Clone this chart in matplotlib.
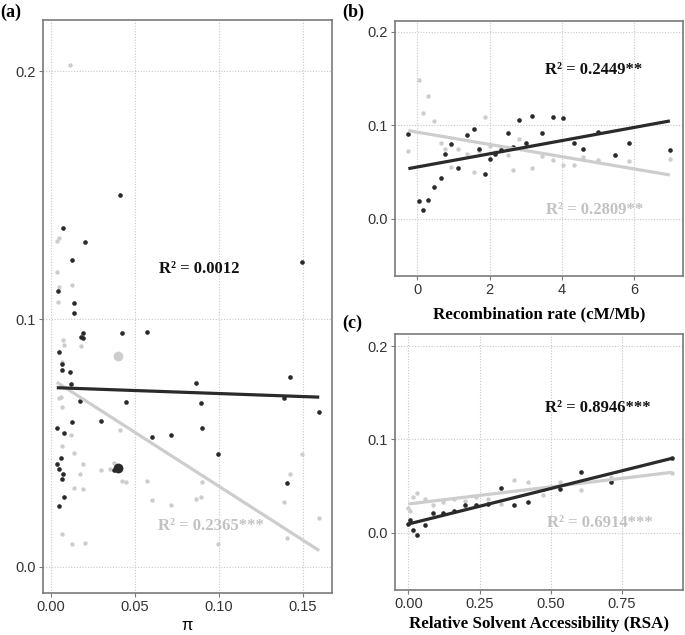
import matplotlib
matplotlib.use("Agg")
import matplotlib.pyplot as plt
import numpy as np

# ---------------- Panel (a) data ----------------
a_dark_x = [0.041, 0.007, 0.0202, 0.0125, 0.1492, 0.0044, 0.0137, 0.0137, 0.0179, 0.0189,
            0.0192, 0.0423, 0.0571, 0.0048, 0.0067, 0.0067, 0.0115, 0.0117, 0.0173, 0.0446,
            0.0861, 0.1423, 0.1389, 0.0893, 0.1597, 0.0125, 0.0298, 0.0034, 0.0075, 0.0899,
            0.0603, 0.0716, 0.0996, 0.0058, 0.0034, 0.0048, 0.0073, 0.0067, 0.0077, 0.005,
            0.1403, 0.0377]
a_dark_y = [0.150, 0.1368, 0.131, 0.1239, 0.1229, 0.1112, 0.1065, 0.1025, 0.0929, 0.0944,
            0.0922, 0.0944, 0.0946, 0.0867, 0.0817, 0.0793, 0.0786, 0.0738, 0.0668, 0.0667,
            0.0742, 0.0766, 0.068, 0.0661, 0.0626, 0.0585, 0.0587, 0.0562, 0.0542, 0.056,
            0.0525, 0.0534, 0.0457, 0.0438, 0.0414, 0.0395, 0.0374, 0.0355, 0.0282, 0.0247,
            0.034, 0.039]
a_light_x = [0.0113, 0.0034, 0.0048, 0.0034, 0.005, 0.0125, 0.0044, 0.0073, 0.0075, 0.0179,
             0.0067, 0.005, 0.006, 0.0067, 0.0411, 0.0117, 0.0067, 0.0137, 0.0192, 0.0173,
             0.0298, 0.0351, 0.0377, 0.0423, 0.0446, 0.0571, 0.0899, 0.0139, 0.019, 0.0603,
             0.0716, 0.0861, 0.0893, 0.1389, 0.1423, 0.1492, 0.1597, 0.0067, 0.0125, 0.0202,
             0.0996, 0.1403]
a_light_y = [0.2024, 0.1316, 0.1328, 0.119, 0.113, 0.1137, 0.1069, 0.0915, 0.0897, 0.0892,
             0.0828, 0.0681, 0.0687, 0.0644, 0.0554, 0.0534, 0.0487, 0.046, 0.0414, 0.0376,
             0.0391, 0.0394, 0.0419, 0.0348, 0.0344, 0.0348, 0.0343, 0.0317, 0.0315, 0.027,
             0.0251, 0.0273, 0.0282, 0.0263, 0.0376, 0.0454, 0.0196, 0.0132, 0.0093, 0.0098,
             0.0093, 0.0118]
a_mean_dark = (0.0401, 0.0398)
a_mean_light = (0.0401, 0.085)
a_line_dark_x = [0.0034, 0.1597]
a_line_dark_y = [0.0723, 0.0685]
a_line_light_x = [0.0034, 0.1597]
a_line_light_y = [0.0745, 0.0066]

# ---------------- Panel (b) data ----------------
b_x = [-0.25, 0.05, 0.16, 0.30, 0.47, 0.64, 0.77, 0.93, 1.12, 1.36, 1.56, 1.71, 1.88, 2.01, 2.15,
       2.32, 2.50, 2.65, 2.81, 2.99, 3.18, 3.45, 3.76, 4.03, 4.33, 4.57, 4.98, 5.46, 5.86, 6.98]
b_dark = [0.0905, 0.0193, 0.0088, 0.0204, 0.034, 0.043, 0.0695, 0.0797, 0.0542, 0.0893,
          0.0955, 0.0744, 0.0477, 0.064, 0.0693, 0.0731, 0.0921, 0.0768, 0.1055, 0.0814,
          0.1098, 0.0916, 0.1085, 0.1078, 0.0811, 0.0745, 0.0926, 0.0676, 0.0811, 0.0731]
b_light = [0.0725, 0.1485, 0.1127, 0.131, 0.1043, 0.0813, 0.0742, 0.0554, 0.0749, 0.0687,
           0.0496, 0.0725, 0.109, 0.078, 0.0717, 0.074, 0.0676, 0.0515, 0.0856, 0.078,
           0.0545, 0.0675, 0.0624, 0.0572, 0.0574, 0.0657, 0.0624, 0.068, 0.062, 0.0642]
b_line_dark_x = [-0.25, 6.98]
b_line_dark_y = [0.0535, 0.1045]
b_line_light_x = [-0.25, 6.98]
b_line_light_y = [0.0941, 0.0467]

# ---------------- Panel (c) data ----------------
c_x = [0.0, 0.006, 0.015, 0.032, 0.057, 0.088, 0.123, 0.159, 0.198, 0.239, 0.281, 0.324,
       0.371, 0.419, 0.472, 0.534, 0.607, 0.713, 0.925]
c_dark = [0.0093, 0.0139, 0.0032, -0.0028, 0.0086, 0.0208, 0.0208, 0.0233, 0.0294, 0.0297,
          0.0311, 0.0482, 0.0297, 0.0329, 0.0465, 0.0468, 0.065, 0.054, 0.0797]
c_light = [0.0265, 0.0236, 0.0383, 0.0426, 0.0361, 0.0294, 0.0325, 0.0361, 0.0343, 0.0386,
           0.0365, 0.0304, 0.0561, 0.0547, 0.0404, 0.054, 0.0461, 0.060, 0.064]
c_line_dark_x = [0.0, 0.925]
c_line_dark_y = [0.0093, 0.0797]
c_line_light_x = [0.0, 0.925]
c_line_light_y = [0.0308, 0.0647]

DARK = "#2a2a2a"
LIGHT = "#cdcdcd"
LIGHT_TXT = "#c2c2c2"
SERIF = "Liberation Serif"
SANS = "Liberation Sans"

fig = plt.figure(figsize=(6.85, 6.35), dpi=100)
axA = fig.add_axes([0.0628, 0.0661, 0.4219, 0.9024])
axB = fig.add_axes([0.5766, 0.5654, 0.4204, 0.4016])
axC = fig.add_axes([0.5766, 0.0709, 0.4204, 0.4031])


def style(ax, xticks, xlabels, xlim, ylim):
    ax.set_xlim(*xlim)
    ax.set_ylim(*ylim)
    ax.set_xticks(xticks)
    ax.set_xticklabels(xlabels, fontfamily=SANS, fontsize=10.5, color="#333333")
    ax.set_yticks([0.0, 0.1, 0.2])
    ax.set_yticklabels(["0.0", "0.1", "0.2"], fontfamily=SANS, fontsize=10.5, color="#333333")
    ax.grid(True, linestyle=(0, (1, 1.5)), color="#c8c8c8", linewidth=0.8)
    ax.set_axisbelow(True)
    for s in ax.spines.values():
        s.set_color("#7a7a7a")
        s.set_linewidth(1.2)
    ax.tick_params(length=3, width=0.8, color="#7a7a7a", pad=2)


def draw(ax, lx, ly, dx, dy, ldx, ldy, llx, lly):
    ax.scatter(lx, ly, s=10, color=LIGHT, zorder=2, linewidths=0)
    ax.scatter(dx, dy, s=11, color=DARK, zorder=3, linewidths=0)
    ax.plot(llx, lly, color=LIGHT, linewidth=2.3, zorder=4, solid_capstyle="butt")
    ax.plot(ldx, ldy, color=DARK, linewidth=2.3, zorder=5, solid_capstyle="butt")


# Panel (a)
draw(axA, a_light_x, a_light_y, a_dark_x, a_dark_y,
     a_line_dark_x, a_line_dark_y, a_line_light_x, a_line_light_y)
axA.scatter([a_mean_light[0]], [a_mean_light[1]], s=50, color=LIGHT, zorder=3, linewidths=0)
axA.scatter([a_mean_dark[0]], [a_mean_dark[1]], s=50, color=DARK, zorder=3, linewidths=0)
style(axA, [0.0, 0.05, 0.10, 0.15], ["0.00", "0.05", "0.10", "0.15"],
      (-0.0048, 0.1673), (-0.0105, 0.2206))
axA.set_xlabel("π", fontfamily=SANS, fontsize=12, labelpad=3)
axA.text(0.064, 0.12, "R² = 0.0012", fontfamily=SERIF, fontweight="bold", fontsize=12,
         color="#111111", va="center", ha="left")
axA.text(0.0637, 0.0165, "R² = 0.2365***", fontfamily=SERIF, fontweight="bold", fontsize=12,
         color=LIGHT_TXT, va="center", ha="left")

# Panel (b)
draw(axB, b_x, b_light, b_x, b_dark,
     b_line_dark_x, b_line_dark_y, b_line_light_x, b_line_light_y)
style(axB, [0, 2, 4, 6], ["0", "2", "4", "6"], (-0.62, 7.34), (-0.0613, 0.2114))
axB.set_xlabel("Recombination rate (cM/Mb)", fontfamily=SERIF, fontweight="bold",
               fontsize=12.2, labelpad=7)
axB.text(3.53, 0.159, "R² = 0.2449**", fontfamily=SERIF, fontweight="bold", fontsize=12,
         color="#111111", va="center", ha="left")
axB.text(3.55, 0.0093, "R² = 0.2809**", fontfamily=SERIF, fontweight="bold", fontsize=12,
         color=LIGHT_TXT, va="center", ha="left")

# Panel (c)
draw(axC, c_x, c_light, c_x, c_dark,
     c_line_dark_x, c_line_dark_y, c_line_light_x, c_line_light_y)
style(axC, [0.0, 0.25, 0.50, 0.75], ["0.00", "0.25", "0.50", "0.75"],
      (-0.047, 0.964), (-0.0614, 0.213))
axC.set_xlabel("Relative Solvent Accessibility (RSA)", fontfamily=SERIF, fontweight="bold",
               fontsize=12.2, labelpad=4)
axC.text(0.48, 0.1337, "R² = 0.8946***", fontfamily=SERIF, fontweight="bold", fontsize=12,
         color="#111111", va="center", ha="left")
axC.text(0.487, 0.0104, "R² = 0.6914***", fontfamily=SERIF, fontweight="bold", fontsize=12,
         color=LIGHT_TXT, va="center", ha="left")

# Panel labels
fig.text(0.0, 0.981, "(a)", fontfamily=SERIF, fontweight="bold", fontsize=13, va="center", ha="left")
fig.text(0.5, 0.981, "(b)", fontfamily=SERIF, fontweight="bold", fontsize=13, va="center", ha="left")
fig.text(0.5, 0.491, "(c)", fontfamily=SERIF, fontweight="bold", fontsize=13, va="center", ha="left")

fig.savefig("out.png", dpi=100)
